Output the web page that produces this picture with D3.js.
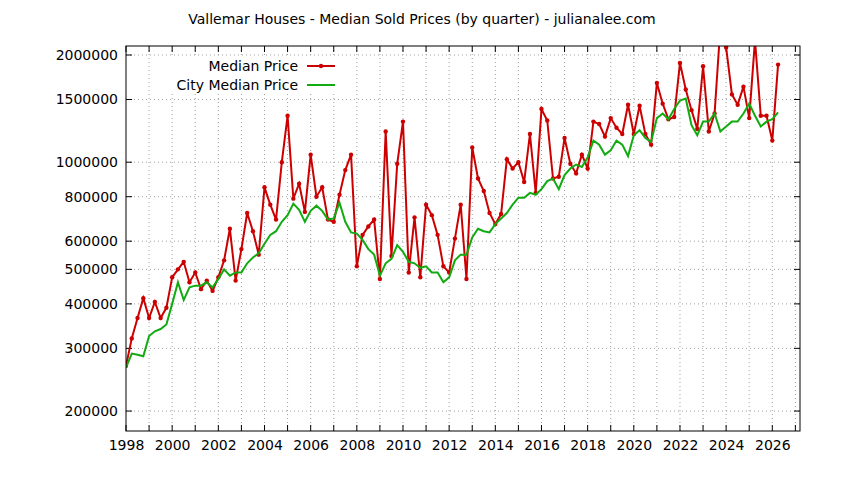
<!DOCTYPE html>
<html>
<head>
<meta charset="utf-8">
<script src="https://cdn.jsdelivr.net/npm/d3@7"></script>
<style>
  body { margin: 0; background: #fff; }
  text { font-family: "DejaVu Sans", sans-serif; font-size: 14px; }
</style>
</head>
<body>
<svg id="chart" width="844" height="480"></svg>
<script>
// quarterly data, starting 1998 Q1 (values in thousands)
const startYear = 1998;
const medianPrice = [
  268, 320, 365, 415,
  365, 405, 365, 390,
  475, 500, 525, 460,
  490, 440, 465, 435,
  475, 530, 650, 465,
  570, 720, 640, 550,
  850, 760, 690, 1000,
  1350, 790, 870, 725,
  1050, 800, 850, 690,
  680, 810, 950, 1050,
  510, 625, 660, 690,
  470, 1220, 545, 990,
  1300, 490, 700, 475,
  760, 710, 625, 510,
  490, 610, 760, 470,
  1100, 900, 830, 720,
  670, 715, 1020, 960,
  1000, 880, 1200, 820,
  1410, 1310, 900, 910,
  1170, 990, 930, 1050,
  960, 1300, 1280, 1180,
  1330, 1250, 1200, 1450,
  1200, 1440, 1200, 1120,
  1670, 1460, 1320, 1340,
  1900, 1600, 1400, 1240,
  1860, 1220, 1370, 2400,
  2100, 1550, 1450, 1630,
  1330, 2200, 1350, 1350,
  1150, 1880
];
const cityMedian = [
  265, 290, 288, 285,
  325, 335, 340, 350,
  400, 460, 410, 445,
  450, 450, 460, 445,
  470, 500, 480, 490,
  490, 520, 540, 555,
  590, 625, 640, 680,
  710, 765, 735, 680,
  730, 755, 730, 690,
  695, 770, 680, 635,
  630, 605, 570, 550,
  480, 520, 535, 585,
  560, 525, 520, 505,
  510, 490, 490, 460,
  475, 530, 550, 550,
  615, 650, 640, 635,
  670, 695, 720, 760,
  795, 795, 820, 810,
  840, 885, 900, 840,
  920, 960, 985, 970,
  1030, 1150, 1120, 1050,
  1080, 1150, 1120, 1040,
  1190, 1230, 1170, 1140,
  1330, 1370, 1320, 1410,
  1490, 1510, 1270, 1190,
  1300, 1300, 1370, 1220,
  1260, 1300, 1300, 1370,
  1460, 1350, 1260, 1300,
  1320, 1380
];
const yTicks = [200000, 300000, 400000, 500000, 600000, 800000, 1000000, 1500000, 2000000];
const xLabelYears = d3.range(1998, 2027, 2);
const xGridYears = d3.range(1998, 2028, 1);

const svg = d3.select("#chart");
const m = { left: 126, right: 800, top: 46, bottom: 431 };

const x = d3.scaleLinear().domain([1998, 2027.2]).range([m.left, m.right]);
const y = d3.scaleLog().domain([175800, 2120000]).range([m.bottom, m.top]);

const toPts = arr => arr.map((v, i) => ({ t: startYear + i / 4, v: v * 1000 }));
const red = toPts(medianPrice);
const green = toPts(cityMedian);

// title
svg.append("text")
  .attr("x", 422).attr("y", 24).attr("text-anchor", "middle")
  .text("Vallemar Houses - Median Sold Prices (by quarter) - julianalee.com");

// grid
const grid = svg.append("g").attr("stroke", "#a0a0a0").attr("stroke-dasharray", "1,3");
grid.selectAll(".gx").data(xGridYears.slice(1)).join("line")
  .attr("x1", d => x(d)).attr("x2", d => x(d))
  .attr("y1", m.top).attr("y2", m.bottom);
grid.selectAll(".gy").data(yTicks).join("line")
  .attr("x1", m.left).attr("x2", m.right)
  .attr("y1", d => y(d)).attr("y2", d => y(d));

// axes
const xAxisB = d3.axisBottom(x).tickValues(xLabelYears).tickFormat(d3.format("d")).tickSize(0).tickPadding(9);
svg.append("g").attr("transform", `translate(0,${m.bottom})`).call(xAxisB)
  .call(g => g.select(".domain").remove())
  .selectAll("text").style("font-size", "14px").style("font-family", "DejaVu Sans").attr("fill", "#000");

const yAxisL = d3.axisLeft(y).tickValues(yTicks).tickFormat(d3.format("d")).tickSize(0).tickPadding(8);
svg.append("g").attr("transform", `translate(${m.left},0)`).call(yAxisL)
  .call(g => g.select(".domain").remove())
  .selectAll("text").style("font-size", "14px").style("font-family", "DejaVu Sans").attr("fill", "#000");

// tick marks (inward, mirrored)
const tk = svg.append("g").attr("stroke", "#000");
xGridYears.forEach(d => {
  tk.append("line").attr("x1", x(d)).attr("x2", x(d)).attr("y1", m.bottom).attr("y2", m.bottom - 6);
  tk.append("line").attr("x1", x(d)).attr("x2", x(d)).attr("y1", m.top).attr("y2", m.top + 6);
});
yTicks.forEach(d => {
  tk.append("line").attr("x1", m.left).attr("x2", m.left + 6).attr("y1", y(d)).attr("y2", y(d));
  tk.append("line").attr("x1", m.right).attr("x2", m.right - 6).attr("y1", y(d)).attr("y2", y(d));
});

// clip
svg.append("clipPath").attr("id", "clip").append("rect")
  .attr("x", m.left).attr("y", m.top).attr("width", m.right - m.left).attr("height", m.bottom - m.top);

const line = d3.line().x(d => x(d.t)).y(d => y(d.v));
const plot = svg.append("g").attr("clip-path", "url(#clip)");

plot.append("path").datum(red).attr("d", line)
  .attr("fill", "none").attr("stroke", "#cc0000").attr("stroke-width", 2);
plot.selectAll(".pt").data(red).join("circle")
  .attr("cx", d => x(d.t)).attr("cy", d => y(d.v)).attr("r", 2.2).attr("fill", "#cc0000");
plot.append("path").datum(green).attr("d", line)
  .attr("fill", "none").attr("stroke", "#11aa11").attr("stroke-width", 2);

// border
svg.append("rect").attr("x", m.left).attr("y", m.top)
  .attr("width", m.right - m.left).attr("height", m.bottom - m.top)
  .attr("fill", "none").attr("stroke", "#000");

// legend
const legend = [
  { label: "Median Price", color: "#cc0000", pts: true, y: 66 },
  { label: "City Median Price", color: "#11aa11", pts: false, y: 85 }
];
legend.forEach(l => {
  svg.append("rect").attr("x", 150).attr("y", l.y - 9).attr("width", 190).attr("height", 18).attr("fill", "#fff");
  svg.append("text").attr("x", 298).attr("y", l.y + 5).attr("text-anchor", "end").text(l.label);
  svg.append("line").attr("x1", 307).attr("x2", 335).attr("y1", l.y).attr("y2", l.y)
    .attr("stroke", l.color).attr("stroke-width", 2);
  if (l.pts) svg.append("circle").attr("cx", 321).attr("cy", l.y).attr("r", 2.2).attr("fill", l.color);
});
</script>
</body>
</html>
